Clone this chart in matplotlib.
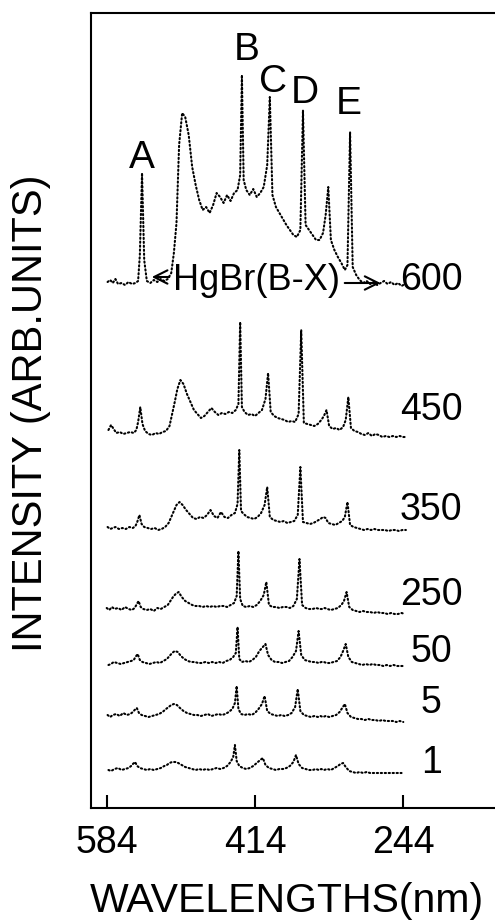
"""
Stacked emission spectra of the HgBr discharge, one trace per setting
(600 ... 1), offset vertically. Hg lines are marked A-E and the
HgBr(B-X) band sits around 500 nm.
"""
import matplotlib
matplotlib.use("Agg")
import matplotlib.pyplot as plt

plt.rcParams["font.family"] = ["Liberation Sans", "DejaVu Sans"]

# ---------------------------------------------------------------------------
# Data (wavelength in nm, intensity in arbitrary units above each baseline)
# ---------------------------------------------------------------------------
WAVELENGTH = [
    583, 580, 577, 574, 571, 567, 563, 559, 555, 551,
    548, 546, 543.5, 541, 538, 534, 530, 526, 522, 518,
    514, 510, 507, 504, 501, 497.5, 494, 490, 486, 482,
    478, 474, 470, 466, 462, 458, 454, 450, 446, 442,
    438, 434, 431, 429, 427, 424, 420, 416, 412, 408,
    404, 400, 397, 394, 390, 386, 382, 378, 374, 370,
    366, 362, 359, 356, 352, 348, 344, 340, 336, 333,
    330, 327, 323, 319, 315, 311, 308, 305, 302, 298,
    294, 290, 286, 282, 278, 274, 270, 266, 262, 258,
    254, 250, 246, 242, 238,
]

I_600 = [
    3, 5, 2, 6, 1, 2, 0, 3, 1, 2,
    4, 30, 112, 25, 4, 2, 5, 3, 6, 4,
    6, 12, 32, 62, 140, 172, 168, 150, 118, 100,
    85, 75, 78, 72, 80, 92, 88, 82, 90, 84,
    92, 95, 110, 210, 105, 95, 90, 96, 88, 92,
    98, 120, 188, 90, 78, 72, 66, 60, 55, 50,
    48, 55, 175, 60, 55, 50, 45, 45, 52, 70,
    98, 45, 35, 28, 22, 15, 20, 153, 18, 10,
    5, 2, 4, 1, 3, 0, 2, 4, 1, 3,
    0, 2, -1, 1, -2,
]

I_450 = [
    2, 4, 9, 5, 1, 2, 0, 1, 2, 1,
    4, 12, 27, 10, 3, 0, -1, 1, 0, 2,
    3, 8, 20, 32, 45, 54, 50, 40, 32, 24,
    20, 16, 18, 22, 26, 22, 19, 21, 20, 22,
    21, 24, 30, 112, 27, 22, 19, 20, 18, 21,
    24, 35, 61, 22, 18, 16, 15, 14, 12, 13,
    12, 20, 104, 11, 10, 9, 8, 10, 14, 18,
    24, 8, 5, 6, 4, 7, 14, 37, 6, 3,
    2, 0, -1, 1, -2, 0, -1, -3, -2, -3,
    -2, -3, -2, -3, -3,
]

I_350 = [
    1, 2, 0, 1, 2, 0, 1, 0, 2, 1,
    3, 7, 14, 5, 2, 1, 0, 1, -1, 0,
    2, 6, 12, 18, 24, 27, 24, 19, 15, 11,
    10, 12, 11, 14, 19, 13, 11, 17, 12, 11,
    14, 16, 25, 79, 18, 15, 12, 11, 10, 12,
    16, 24, 42, 12, 9, 8, 7, 8, 6, 7,
    8, 14, 62, 7, 6, 5, 6, 8, 10, 12,
    11, 6, 5, 4, 6, 8, 12, 27, 4, 2,
    1, 0, -1, 0, -1, 0, -1, -1, -1, -2,
    -1, -1, -2, -1, -1,
]

I_250 = [
    2, 3, 1, 4, 2, 3, 1, 4, 2, 1,
    3, 6, 10, 4, 2, 1, 2, 0, 3, 2,
    4, 6, 10, 14, 17, 19, 14, 10, 8, 6,
    5, 5, 4, 5, 4, 5, 4, 5, 5, 4,
    6, 8, 15, 60, 12, 5, 4, 5, 4, 6,
    10, 16, 29, 6, 4, 4, 3, 4, 4, 3,
    5, 12, 52, 6, 3, 2, 2, 3, 2, 2,
    3, 2, 1, 2, 3, 6, 10, 19, 4, 1,
    0, -1, 0, -1, -1, -2, -1, -2, -2, -3,
    -2, -3, -3, -2, -3,
]

I_50 = [
    1, 2, 0, 1, 3, 2, 1, 2, 3, 4,
    5, 8, 11, 5, 3, 2, 1, 2, 3, 2,
    4, 6, 9, 12, 14, 13, 9, 6, 4, 3,
    3, 2, 2, 3, 2, 3, 2, 3, 2, 4,
    5, 8, 12, 38, 6, 3, 4, 3, 5, 8,
    14, 18, 21, 10, 5, 3, 3, 2, 3, 4,
    8, 14, 34, 10, 5, 4, 3, 3, 2, 3,
    3, 2, 2, 3, 4, 8, 14, 21, 8, 3,
    2, 1, 0, 1, 0, 1, 0, 0, -1, 0,
    -1, 0, -1, -1, -1,
]

I_5 = [
    1, 3, 2, 0, 2, 3, 1, 4, 2, 3,
    5, 7, 9, 4, 2, 1, 0, 1, 2, 3,
    5, 8, 10, 12, 13, 12, 9, 6, 4, 3,
    2, 2, 1, 2, 3, 1, 2, 3, 2, 3,
    5, 8, 14, 31, 8, 3, 2, 3, 2, 4,
    8, 13, 21, 6, 3, 2, 1, 2, 1, 2,
    4, 10, 28, 6, 2, 1, 0, 1, 0, 1,
    0, 1, 0, 1, 2, 5, 9, 13, 4, 0,
    -1, -2, -2, -3, -2, -3, -3, -4, -3, -4,
    -4, -4, -5, -4, -5,
]

I_1 = [
    1, 0, 2, 1, 0, 2, 3, 1, 2, 3,
    5, 7, 9, 5, 3, 2, 1, 2, 1, 2,
    3, 5, 6, 8, 9, 9, 8, 6, 4, 3,
    2, 1, 2, 1, 2, 1, 2, 3, 2, 3,
    5, 9, 14, 26, 10, 5, 3, 2, 3, 5,
    8, 11, 13, 6, 3, 2, 1, 2, 2, 3,
    5, 9, 16, 7, 3, 2, 1, 1, 2, 1,
    2, 1, 2, 1, 3, 5, 7, 8, 4, 0,
    -1, -2, -1, -2, -1, -2, -2, -2, -2, -2,
    -2, -2, -2, -2, -2,
]

TRACE_LABELS = ["600", "450", "350", "250", "50", "5", "1"]
TRACES = [I_600, I_450, I_350, I_250, I_50, I_5, I_1]
OFFSETS = [523, 374, 279, 197, 143, 91, 37]     # baseline of each trace
CAL_SHIFT = [0, 2, 3, 4, 5, 6, 8]               # nm, per-trace calibration
X_TICKS = [584, 414, 244]

# Hg line markers (label, wavelength, height)
LINE_MARKS = [("A", 543.5, 640), ("B", 423.2, 748), ("C", 393.4, 716),
              ("D", 356.7, 705), ("E", 306.3, 694)]


def draw_spectra(ax):
    for inten, off, sh in zip(TRACES, OFFSETS, CAL_SHIFT):
        pts = [(w + sh, v + off) for w, v in zip(WAVELENGTH, inten)
               if w + sh <= 584]
        xs = [p[0] for p in pts]
        ys = [p[1] for p in pts]
        ax.plot(xs, ys, color="black", lw=1.5, ls=(0, (0.6, 1.3)),
                dash_capstyle="round")


def main():
    fig = plt.figure(figsize=(4.95, 9.22), dpi=100)
    ax = fig.add_axes([91 / 495, 114 / 922, 414 / 495, 795 / 922])

    draw_spectra(ax)

    ax.set_xlim(602.0, 127.4)
    ax.set_ylim(0, 795)
    ax.set_yticks([])
    ax.set_xticks(X_TICKS)
    ax.set_xticklabels([str(t) for t in X_TICKS])
    ax.tick_params(axis="x", direction="in", length=9.5, width=1.5,
                   labelsize=27, pad=12)
    for side in ("left", "top", "bottom"):
        ax.spines[side].set_linewidth(1.5)
    ax.spines["right"].set_visible(False)

    # trace labels on the right
    label_base = [518, 388, 288, 203, 146, 95, 35]
    for lab, yb in zip(TRACE_LABELS, label_base):
        ax.text(212, yb, lab, fontsize=27, ha="center", va="baseline")

    for lab, w, yb in LINE_MARKS:
        ax.text(w, yb, lab, fontsize=28, ha="center", va="baseline")

    # HgBr(B-X) band extent
    ax.text(507.8, 518, "HgBr(B-X)", fontsize=26, ha="left", va="baseline")
    arrow = dict(arrowstyle="->", lw=1.5, mutation_scale=24, color="black")
    ax.annotate("", xy=(535.5, 531), xytext=(509.1, 531), arrowprops=arrow)
    ax.annotate("", xy=(267.0, 525), xytext=(314.3, 525), arrowprops=arrow)

    fig.text(287 / 495, 10 / 922, "WAVELENGTHS(nm)", fontsize=29.5,
             ha="center", va="baseline")
    fig.text(31 / 495, 1 - 413 / 922, "INTENSITY (ARB.UNITS)", fontsize=30,
             rotation=90, ha="center", va="center")

    fig.savefig("out.png", dpi=100)
    plt.close("all")


if __name__ == "__main__":
    main()
